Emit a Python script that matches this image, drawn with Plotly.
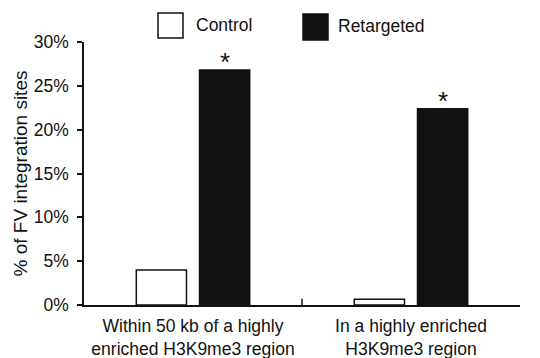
import plotly.graph_objects as go

categories = ["Within 50 kb of a highly<br>enriched H3K9me3 region",
              "In a highly enriched<br>H3K9me3 region"]
control = [4.0, 0.65]
retargeted = [26.8, 22.4]
sig_marks = ["*", "*"]
y_ticks = [0, 5, 10, 15, 20, 25, 30]
y_tick_labels = [f"{v}%" for v in y_ticks]

FONT = "Liberation Sans, Arial, sans-serif"
INK = "#111111"

fig = go.Figure()
fig.add_trace(go.Bar(
    x=categories, y=control, name="Control",
    marker=dict(color="white", line=dict(color=INK, width=1.5)),
    showlegend=False,
))
fig.add_trace(go.Bar(
    x=categories, y=retargeted, name="Retargeted",
    marker=dict(color=INK, line=dict(color=INK, width=1.5)),
    showlegend=False,
))

L, R, T, B = 84, 20, 42, 53
W, H = 540, 358
pw, ph = W - L - R, H - T - B

def px(x):
    return (x - L) / pw

def py(y):
    return (H - B - y) / ph

shapes = [
    # category divider tick
    dict(type="line", xref="x", yref="y", x0=0.5, x1=0.5, y0=0, y1=0.7,
         line=dict(color=INK, width=1.5)),
    # legend boxes
    dict(type="rect", xref="paper", yref="paper",
         x0=px(158), x1=px(183), y0=py(38), y1=py(13),
         fillcolor="white", line=dict(color=INK, width=1.5)),
    dict(type="rect", xref="paper", yref="paper",
         x0=px(303), x1=px(328), y0=py(40), y1=py(14),
         fillcolor=INK, line=dict(color=INK, width=1.5)),
]
annotations = [
    dict(text="Control", xref="paper", yref="paper", x=px(194), y=py(25),
         xanchor="left", yanchor="middle", showarrow=False,
         font=dict(size=17.5, color=INK, family=FONT)),
    dict(text="Retargeted", xref="paper", yref="paper", x=px(336), y=py(26),
         xanchor="left", yanchor="middle", showarrow=False,
         font=dict(size=17.5, color=INK, family=FONT)),
]
# significance asterisks above the Retargeted bars
for cat, val, mark in zip(categories, retargeted, sig_marks):
    annotations.append(dict(
        text=mark, x=cat, y=val, xref="x", yref="y",
        xanchor="center", yanchor="bottom", xshift=32, yshift=-9,
        showarrow=False, font=dict(size=26, color=INK, family=FONT),
    ))

fig.update_layout(
    width=W, height=H,
    margin=dict(l=L, r=R, t=T, b=B),
    paper_bgcolor="white", plot_bgcolor="white",
    barmode="group", bargap=0.42, bargroupgap=0.206,
    font=dict(family=FONT, size=17.5, color=INK),
    shapes=shapes, annotations=annotations,
    xaxis=dict(
        showline=True, linecolor=INK, linewidth=1.5,
        ticks="", showgrid=False, zeroline=False,
        tickfont=dict(size=17.5), automargin=False,
        ticklabelstandoff=4,
    ),
    yaxis=dict(
        range=[0, 30], tickvals=y_ticks, ticktext=y_tick_labels,
        showline=True, linecolor=INK, linewidth=1.5,
        ticks="outside", ticklen=5, tickwidth=1.5, tickcolor=INK,
        showgrid=False, zeroline=False, automargin=False,
        tickfont=dict(size=17.5), ticklabelstandoff=5,
        title=dict(text="% of FV integration sites", font=dict(size=19), standoff=1),
    ),
)

fig.write_html("out.html")
